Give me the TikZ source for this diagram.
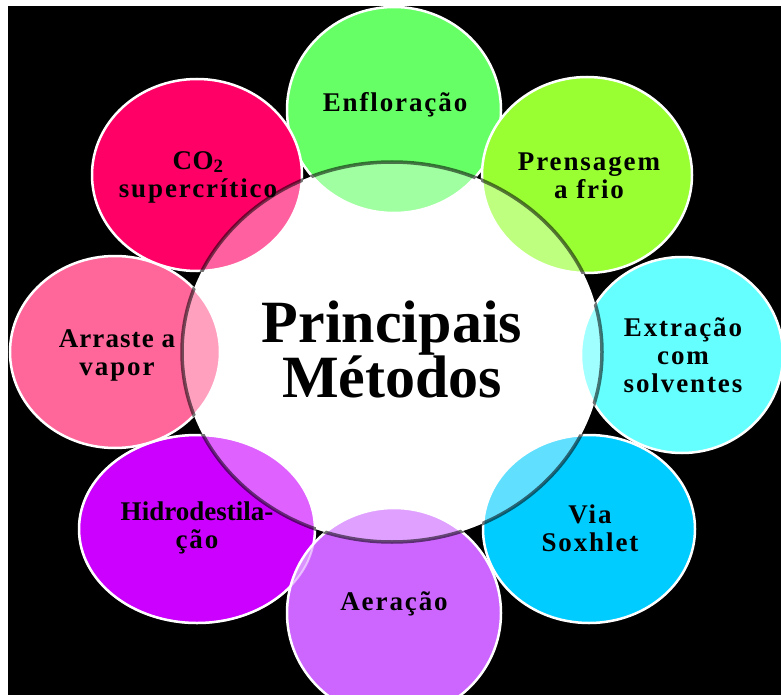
\documentclass[tikz,border=0pt]{standalone}
\usepackage{fontspec}
\setmainfont{Liberation Serif}
\usetikzlibrary{shapes.geometric}

\definecolor{cEnf}{HTML}{66FF66}
\definecolor{cPre}{HTML}{99FF33}
\definecolor{cExt}{HTML}{66FFFF}
\definecolor{cSox}{HTML}{00CCFF}
\definecolor{cAer}{HTML}{CC66FF}
\definecolor{cHid}{HTML}{CC00FF}
\definecolor{cArr}{HTML}{FF6699}
\definecolor{cCOt}{HTML}{FF0066}

\tikzset{
  method/.style={ellipse, draw=white, line width=2.5pt, inner sep=0pt, fill=#1},
  lbl/.style={align=center, inner sep=0pt, anchor=base, text=black,
    font=\fontsize{27}{28}\selectfont\bfseries\addfontfeature{LetterSpace=7}},
  title/.style={align=center, inner sep=0pt, anchor=base, text=black,
    font=\fontsize{60}{55}\selectfont\bfseries}
}

\begin{document}
\begin{tikzpicture}[x=1pt,y=-1pt]
\useasboundingbox (0,0) rectangle (781,695);
\fill[white] (0,0) rectangle (781,695);
\fill[black] (8,6) rectangle (781,695);

% solid white hub underneath everything
\fill[white] (392,352) ellipse [x radius=210, y radius=190];

% the eight method discs
\node[method=cEnf, minimum width=214pt, minimum height=206pt] (enf) at (394,110) {};
\node[method=cPre, minimum width=210pt, minimum height=196pt] (pre) at (587,175) {};
\node[method=cExt, minimum width=202pt, minimum height=196pt] (ext) at (682,355) {};
\node[method=cSox, minimum width=212pt, minimum height=188pt] (sox) at (589,529) {};
\node[method=cHid, minimum width=236pt, minimum height=188pt] (hid) at (197,529) {};
\node[method=cAer, minimum width=214pt, minimum height=210pt] (aer) at (394,613) {};
\node[method=cArr, minimum width=210pt, minimum height=192pt] (arr) at (115,352) {};
\node[method=cCOt, minimum width=210pt, minimum height=192pt] (cot) at (197,175) {};

% lighter overlap of the two purple discs
\begin{scope}
  \clip (197,529) ellipse [x radius=118, y radius=94];
  \fill[white, opacity=0.3] (394,613) ellipse [x radius=107, y radius=105];
\end{scope}
\draw[white, opacity=0.5, line width=2pt] (197,529) ellipse [x radius=118, y radius=94];

% translucent hub on top
\fill[white, opacity=0.38] (392,352) ellipse [x radius=210, y radius=190];
% its dark rim shows only where it crosses the discs
\begin{scope}
  \clip (394,110) ellipse [x radius=108, y radius=104]
        (587,175) ellipse [x radius=106, y radius=99]
        (682,355) ellipse [x radius=102, y radius=99]
        (589,529) ellipse [x radius=107, y radius=95]
        (197,529) ellipse [x radius=119, y radius=95]
        (394,613) ellipse [x radius=108, y radius=106]
        (115,352) ellipse [x radius=106, y radius=97]
        (197,175) ellipse [x radius=106, y radius=97];
  \draw[black, opacity=0.55, line width=3.5pt] (392,352) ellipse [x radius=210, y radius=190];
\end{scope}
\node (hub) at (392,352) {};

% labels
\node[title] (ttl) at (392,397) {Principais\\Métodos};
\node[lbl] (tenf) at (395,112) {Enfloração};
\node[lbl] (tpre) at (589,198) {Prensagem\\a frio};
\node[lbl] (text) at (683,392) {Extração\\com\\solventes};
\node[lbl] (tsox) at (590,551) {Via\\Soxhlet};
\node[lbl] (thid) at (197,548) {\addfontfeature{LetterSpace=0}Hidrodestila-\\ção};
\node[lbl] (taer) at (394,610) {Aeração};
\node[lbl] (tarr) at (117,375) {\addfontfeature{LetterSpace=4}Arraste a\\vapor};
\node[lbl] (tcot) at (198,197) {\addfontfeature{LetterSpace=2}CO\textsubscript{2}\\supercrítico};
\end{tikzpicture}
\end{document}
